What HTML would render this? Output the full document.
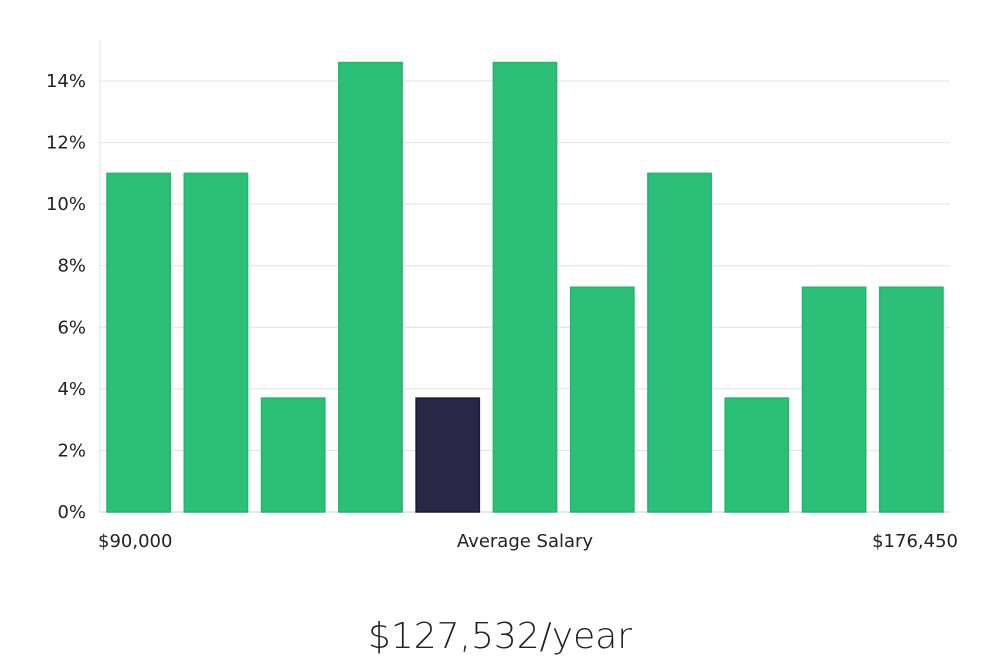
<!DOCTYPE html>
<html><head><meta charset="utf-8"><style>
body{margin:0;background:#fff;width:1000px;height:660px;overflow:hidden;font-family:"DejaVu Sans","Liberation Sans",sans-serif}
</style></head><body>
<svg width="1000" height="660">
<g id="grid"></g>
<line x1="100" y1="40" x2="100" y2="512" stroke="#e0e0e0"/>
<g id="yt"></g>
<g id="bars"></g>
<text x="98" y="547" font-size="18" fill="#222">$90,000</text>
<text x="525" y="547" font-size="18" fill="#222" text-anchor="middle">Average Salary</text>
<text x="958" y="547" font-size="18" fill="#222" text-anchor="end">$176,450</text>
<text x="500" y="648" font-size="36" fill="#222" text-anchor="middle" font-family="'DejaVu Sans','Liberation Sans',sans-serif" font-weight="200" style="font-stretch:condensed">$127,532/year</text>
</svg>
<script>
const categories=["b1","b2","b3","b4","b5","b6","b7","b8","b9","b10","b11"];
const values=[11,11,3.7,14.6,3.7,14.6,7.3,11,3.7,7.3,7.3];
const highlightIndex=4;
const yTicks=[0,2,4,6,8,10,12,14];
const NS="http://www.w3.org/2000/svg";
const x0=100,x1=950,yBase=512,pxPer=(512-81)/14;
const y=v=>yBase-v*pxPer;
const band=(x1-x0)/categories.length;
const xb=i=>x0+i*band+7;
const g=document.getElementById('grid'),yt=document.getElementById('yt'),bars=document.getElementById('bars');
yTicks.forEach(t=>{
 const l=document.createElementNS(NS,'line');
 l.setAttribute('x1',x0);l.setAttribute('x2',x1);l.setAttribute('y1',y(t));l.setAttribute('y2',y(t));
 l.setAttribute('stroke',t===0?'#cfcfcf':'#e2e2e2');
 
 
 g.appendChild(l);
 const s=document.createElementNS(NS,'text');
 s.setAttribute('x',86);s.setAttribute('y',y(t)+6);s.setAttribute('text-anchor','end');s.setAttribute('font-size','18');s.setAttribute('fill','#222');
 s.textContent=t+'%';
 
 
 yt.appendChild(s);
});
values.forEach((v,i)=>{
 const r=document.createElementNS(NS,'rect');
 r.setAttribute('x',xb(i));r.setAttribute('width',band-14);r.setAttribute('y',y(v));r.setAttribute('height',yBase-y(v));
 const hi=i===highlightIndex;
 r.setAttribute('fill',hi?'#2a2645':'#2bbf78');r.setAttribute('stroke',hi?'#1c1933':'#22b56c');r.setAttribute('stroke-width','1.5');
 
 
 bars.appendChild(r);
});
</script>
</body></html>
